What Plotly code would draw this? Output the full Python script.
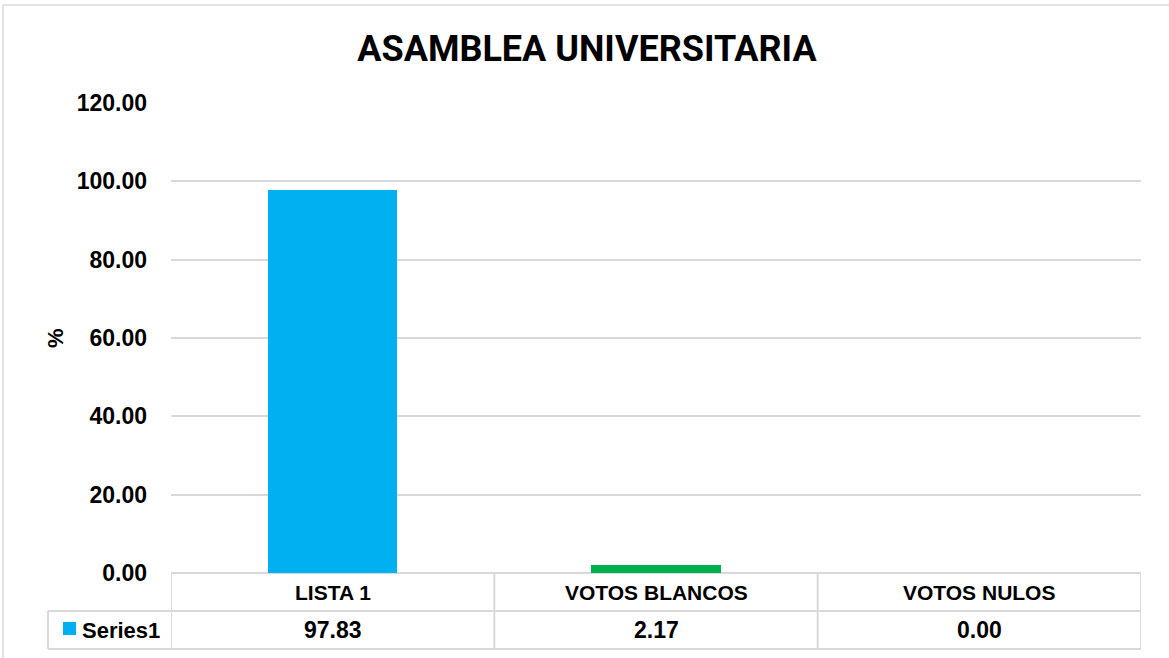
import plotly.graph_objects as go

categories = ["LISTA 1", "VOTOS BLANCOS", "VOTOS NULOS"]
values = [97.83, 2.17, 0.00]
colors = ["#00B0F0", "#00B050", "#00B050"]
series_name = "Series1"
title_text = "ASAMBLEA UNIVERSITARIA"
y_title = "%"
y_ticks = [0, 20, 40, 60, 80, 100, 120]

W, H = 1169, 658
L, R, T, B = 171, 1141, 102, 573  # plot area in pixels
PW, PH = R - L, B - T

def px(xp):
    return (xp - L) / PW

def py(yp):
    return (B - yp) / PH

FONT = "Arial, 'Liberation Sans', sans-serif"
TFONT = "Roboto, Arial, sans-serif"
GRID = "#D9D9D9"
FS_LAB = 21
FS_NUM = 23

fig = go.Figure()
fig.add_trace(go.Bar(
    x=list(range(len(categories))), y=values,
    marker=dict(color=colors, line=dict(width=0)),
    width=0.4, name=series_name, showlegend=False,
    hoverinfo="x+y",
))

shapes = []
row1_bot = 611
row2_bot = 649
leg_left = 48
n = len(categories)
for i in range(n + 1):
    shapes.append(dict(type="line", xref="x", yref="paper",
                       x0=i - 0.5, x1=i - 0.5, y0=py(B), y1=py(row2_bot),
                       line=dict(color=GRID, width=2)))
shapes.append(dict(type="line", xref="paper", yref="paper",
                   x0=px(leg_left), x1=px(leg_left), y0=py(row1_bot), y1=py(row2_bot),
                   line=dict(color=GRID, width=2)))
for yy in [row1_bot, row2_bot]:
    shapes.append(dict(type="line", xref="paper", yref="paper",
                       x0=px(leg_left), x1=1, y0=py(yy), y1=py(yy),
                       line=dict(color=GRID, width=2)))
# outer chart frame (top and left)
shapes.append(dict(type="line", xref="paper", yref="paper",
                   x0=px(3), x1=px(W + 5), y0=py(5), y1=py(5),
                   line=dict(color=GRID, width=1.5)))
shapes.append(dict(type="line", xref="paper", yref="paper",
                   x0=px(3), x1=px(3), y0=py(5), y1=py(H + 5),
                   line=dict(color=GRID, width=1.5)))
# legend key square
shapes.append(dict(type="rect", xref="paper", yref="paper",
                   x0=px(63), x1=px(76), y0=py(622), y1=py(635),
                   fillcolor=colors[0], line=dict(width=0)))

annotations = []
for i, c in enumerate(categories):
    annotations.append(dict(x=i, y=py((B + row1_bot) / 2), xref="x", yref="paper",
                            text=f"<b>{c}</b>", showarrow=False,
                            font=dict(family=FONT, size=FS_LAB, color="black"),
                            xanchor="center", yanchor="middle"))
    annotations.append(dict(x=i, y=py((row1_bot + row2_bot) / 2), xref="x", yref="paper",
                            text=f"<b>{values[i]:.2f}</b>", showarrow=False,
                            font=dict(family=FONT, size=FS_NUM, color="black"),
                            xanchor="center", yanchor="middle"))
annotations.append(dict(x=px(80), y=py((row1_bot + row2_bot) / 2), xref="paper", yref="paper",
                        text=f"<b>{series_name}</b>", showarrow=False,
                        font=dict(family=FONT, size=22, color="black"),
                        xanchor="left", yanchor="middle"))
annotations.append(dict(x=px(55), y=py(338), xref="paper", yref="paper",
                        text=f"<b>{y_title}</b>", showarrow=False, textangle=-90,
                        font=dict(family=FONT, size=22, color="black"),
                        xanchor="center", yanchor="middle"))

fig.update_layout(
    width=W, height=H,
    margin=dict(l=L, r=W - R, t=T, b=H - B, autoexpand=False),
    paper_bgcolor="white", plot_bgcolor="white",
    title=dict(text=f"<b>{title_text}</b>", xref="container", x=587 / W, xanchor="center",
               yref="container", y=1 - 48 / H, yanchor="middle",
               font=dict(family=TFONT, size=36, color="black")),
    xaxis=dict(range=[-0.5, n - 0.5], showticklabels=False, showgrid=False,
               zeroline=False, showline=False, ticks="", fixedrange=True),
    yaxis=dict(range=[0, 120.25], tickvals=y_ticks,
               ticktext=[f"<b>{v:.2f}</b>" for v in y_ticks],
               tickfont=dict(family=FONT, size=FS_NUM, color="black"),
               showgrid=True, gridcolor=GRID, gridwidth=2,
               zeroline=True, zerolinecolor=GRID, zerolinewidth=2,
               showline=False, ticks="", ticklabelstandoff=23),
    shapes=shapes, annotations=annotations, bargap=0,
)

fig.write_html("out.html", config={"displayModeBar": False},
               post_script="document.body.style.margin='0';")
